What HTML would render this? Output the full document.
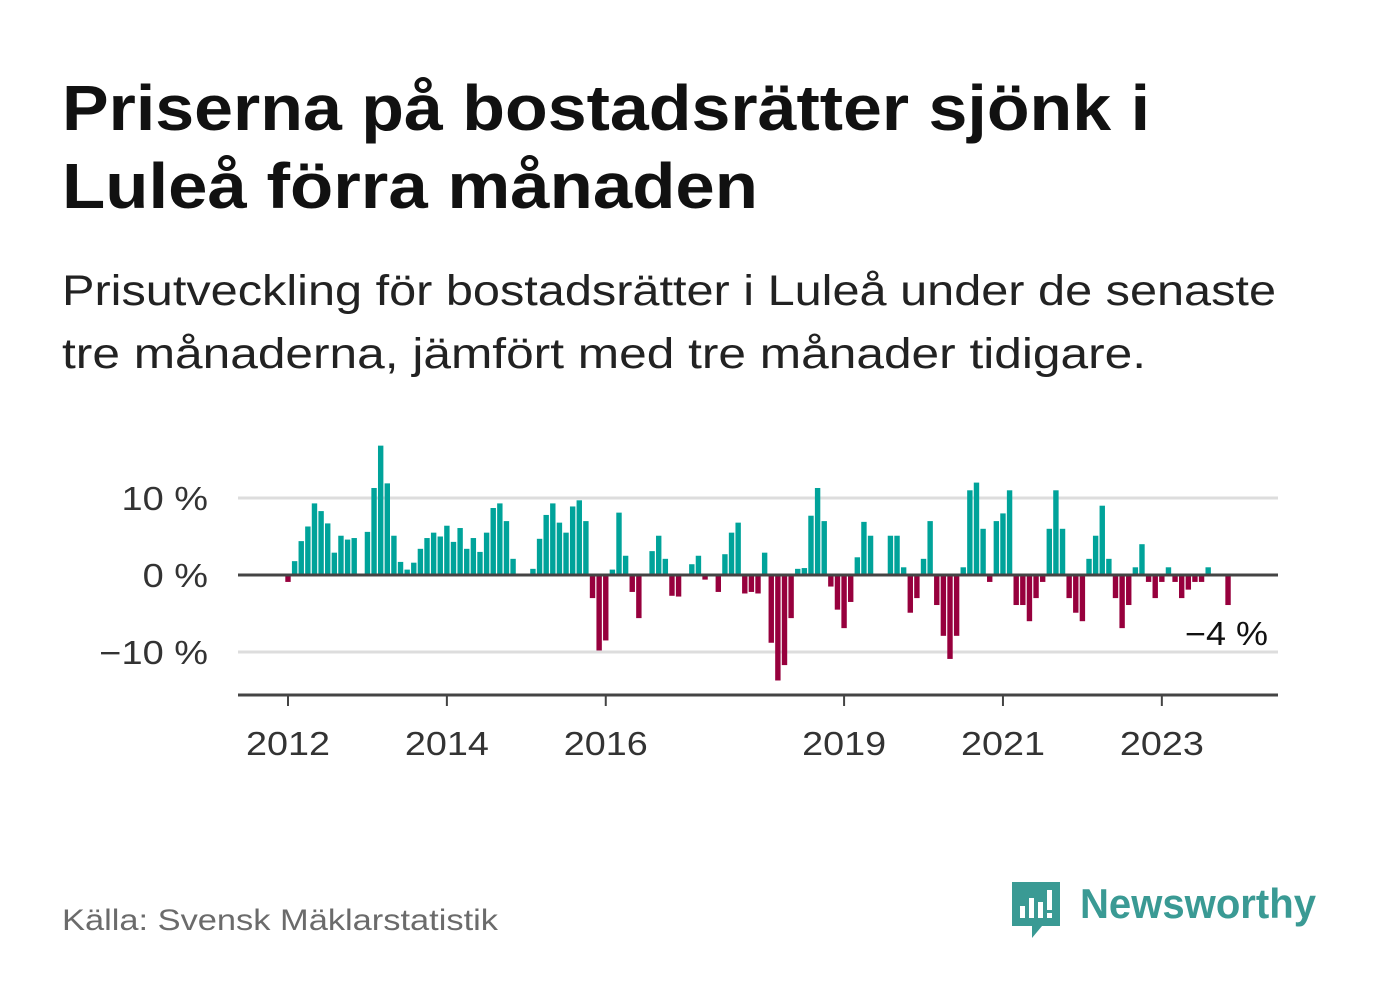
<!DOCTYPE html>
<html><head><meta charset="utf-8"><style>
body{margin:0;background:#fff;}
svg{display:block;font-family:"Liberation Sans",sans-serif;}
</style></head><body>
<svg id="chart" width="1382" height="999" viewBox="0 0 1382 999">
<text x="62" y="130" font-size="64" font-weight="bold" fill="#111" textLength="1088" lengthAdjust="spacingAndGlyphs">Priserna på bostadsrätter sjönk i</text>
<text x="62" y="208" font-size="64" font-weight="bold" fill="#111" textLength="696" lengthAdjust="spacingAndGlyphs">Luleå förra månaden</text>
<text x="62" y="305" font-size="43" fill="#222" textLength="1214" lengthAdjust="spacingAndGlyphs">Prisutveckling för bostadsrätter i Luleå under de senaste</text>
<text x="62" y="368" font-size="43" fill="#222" textLength="1084" lengthAdjust="spacingAndGlyphs">tre månaderna, jämfört med tre månader tidigare.</text>
<g id="grid"></g>
<g id="bars"></g>
<g id="axes"></g>
<text x="62" y="930" font-size="30" fill="#6b6b6b" textLength="436" lengthAdjust="spacingAndGlyphs">Källa: Svensk Mäklarstatistik</text>
<g>
<path d="M1012 882 h48 v44 h-18 l-10 12 v-12 h-20 z" fill="#3a9a94"/>
<rect x="1020" y="906" width="5" height="12" fill="#fff"/>
<rect x="1029" y="898" width="5" height="20" fill="#fff"/>
<rect x="1038" y="902" width="5" height="16" fill="#fff"/>
<rect x="1047" y="890" width="5" height="20" fill="#fff"/>
<rect x="1047" y="913" width="5" height="5" fill="#fff"/>
<text x="1080" y="918" font-size="42" font-weight="bold" fill="#3a9a94" textLength="236" lengthAdjust="spacingAndGlyphs">Newsworthy</text>
</g>
</svg>
<script>
const values=[-0.9,1.8,4.4,6.3,9.3,8.3,6.7,2.9,5.1,4.6,4.8,0,5.6,11.3,16.8,11.9,5.1,1.7,0.7,1.6,3.4,4.8,5.5,5.0,6.4,4.3,6.1,3.4,4.8,3.0,5.5,8.7,9.3,7.0,2.1,0,0,0.8,4.7,7.8,9.3,6.8,5.5,8.9,9.7,7.0,-3.0,-9.8,-8.5,0.7,8.1,2.5,-2.2,-5.6,0,3.1,5.1,2.1,-2.7,-2.8,0,1.4,2.5,-0.6,0,-2.2,2.7,5.5,6.8,-2.4,-2.2,-2.4,2.9,-8.8,-13.7,-11.7,-5.6,0.8,0.9,7.7,11.3,7.0,-1.5,-4.5,-6.9,-3.5,2.3,6.9,5.1,0,0,5.1,5.1,1.0,-4.9,-3.0,2.1,7.0,-3.9,-7.9,-10.9,-7.9,1.0,11.0,12.0,6.0,-0.9,7.0,8.0,11.0,-3.9,-3.9,-6.0,-3.0,-0.9,6.0,11.0,6.0,-3.0,-4.9,-6.0,2.1,5.1,9.0,2.1,-3.0,-6.9,-3.9,1.0,4.0,-0.9,-3.0,-0.9,1.0,-0.9,-3.0,-1.9,-0.9,-0.9,1.0,0,0,-3.9];
const startYear=2012;
const yTicks=[10,0,-10];
const yTickLabels=["10 %","0 %","−10 %"];
const xTickYears=[2012,2014,2016,2019,2021,2023];
const lastLabel="−4 %";
const NS="http://www.w3.org/2000/svg";
const x0=288, pxPerMonth=6.62, y0=575, pxPerPct=7.7;
const xScale=i=>x0+i*pxPerMonth;
const yScale=v=>y0-v*pxPerPct;
function mk(tag,attrs,parent){const e=document.createElementNS(NS,tag);for(const k in attrs)e.setAttribute(k,attrs[k]);parent.appendChild(e);return e;}
const grid=document.getElementById('grid'),bars=document.getElementById('bars'),axes=document.getElementById('axes');
yTicks.forEach((t,i)=>{
  if(t!==0){const l=mk('line',{x1:238,x2:1278,y1:yScale(t),y2:yScale(t),stroke:'#dddddd','stroke-width':3},grid);
  
  }
  const tx=mk('text',{x:208,y:yScale(t)+12,'font-size':33,'text-anchor':'end',fill:'#333'},axes);
  tx.textContent=yTickLabels[i];
  const w=tx.getComputedTextLength();
  tx.setAttribute('textLength',(w*1.15).toFixed(1));
  tx.setAttribute('lengthAdjust','spacingAndGlyphs');
  
  
});
values.forEach((v,i)=>{
  if(v===0)return;
  const y=v>0?yScale(v):y0, h=Math.abs(yScale(v)-y0);
  const r=mk('rect',{x:xScale(i)-2.7,y:y,width:5.4,height:h,fill:v>0?'#00a39a':'#97003d'},bars);
  
  
});
const zl=mk('line',{x1:238,x2:1278,y1:y0,y2:y0,stroke:'#444','stroke-width':3},axes);


const xa=mk('line',{x1:238,x2:1278,y1:695,y2:695,stroke:'#444','stroke-width':3},axes);


xTickYears.forEach(yr=>{
  const x=xScale((yr-startYear)*12);
  const tk=mk('line',{x1:x,x2:x,y1:695,y2:706,stroke:'#444','stroke-width':2},axes);
  
  
  const t=mk('text',{x:x,y:755,'font-size':33,'text-anchor':'middle',fill:'#333',textLength:84,lengthAdjust:'spacingAndGlyphs'},axes);
  t.textContent=String(yr);
  
  
});
const ll=mk('text',{x:1268,y:645,'font-size':33,'text-anchor':'end',fill:'#111',stroke:'#fff','stroke-width':6,'paint-order':'stroke',textLength:83,lengthAdjust:'spacingAndGlyphs'},axes);
ll.textContent=lastLabel;


</script>
</body></html>
